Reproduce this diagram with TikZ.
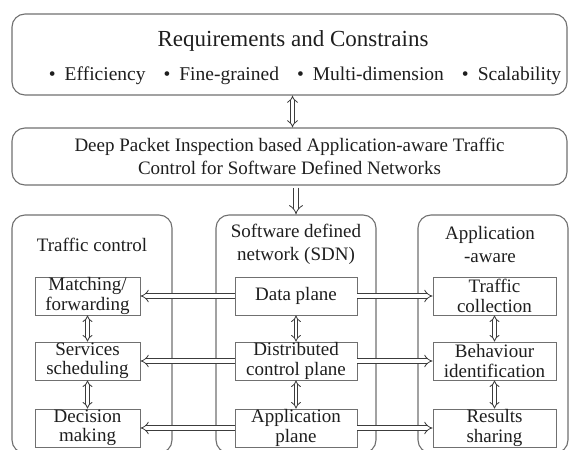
\documentclass[tikz,border=0pt]{standalone}
\usepackage{fontspec}
\setmainfont{Liberation Serif}
\usepackage{xcolor}
\definecolor{frameGray}{HTML}{707070}
\definecolor{arrowGray}{HTML}{3C3C3C}
\definecolor{inkText}{HTML}{1E1E1E}
\usepackage{tikz}
\usetikzlibrary{
    arrows.meta,
    positioning,
    calc
}
\tikzset{
    % Large rounded panels (top boxes and the three columns)
    panel/.style={
        draw=frameGray,
        line width=1.1pt,
        rounded corners=13pt,
        inner sep=0pt,
    },
    % Plain text inside the panels
    panel text/.style={
        text=inkText,
        align=center,
        inner sep=0pt,
        font=\fontsize{19}{23}\selectfont,
    },
    % Small square boxes inside the columns
    block/.style={
        rectangle,
        draw=frameGray,
        line width=0.9pt,
        minimum height=38pt,
        inner sep=0pt,
        align=center,
        text=inkText,
        font=\fontsize{19}{19.5}\selectfont,
    },
    % Hollow arrow
    hollow/.style={
        draw=arrowGray,
        line width=0.8pt,
        double=white,
        double distance=3.6pt,
        -{Implies[length=7pt, width=14pt]},
    },
    % Hollow arrow, both ends
    hollow both/.style={
        hollow,
        double distance=2.6pt,
        {Implies[length=5pt, width=10pt]}-{Implies[length=5pt, width=10pt]},
    },
}

\begin{document}
\begin{tikzpicture}[x=1pt, y=-1pt]
    \clip (0,0) rectangle (571,450);

    % top panels
    \node (req) [panel, minimum width=555pt, minimum height=81pt] at (289.5,54.5) {};
    \node (reqtitle) [panel text, font=\fontsize{23}{27}\selectfont] at (293,41) {Requirements and Constrains};
    \node (reqlist) [panel text, font=\fontsize{19.5}{23}\selectfont] at (305,76)
        {•\hspace{9pt}Efficiency\hspace{18pt}•\hspace{9pt}Fine-grained\hspace{18pt}•\hspace{9pt}Multi-dimension\hspace{18pt}•\hspace{9pt}Scalability};
    \node (dpi) [panel, minimum width=555pt, minimum height=57pt] at (289.5,156.5) {};
    \node (dpitext) [panel text] at (289.5,156.5)
        {Deep Packet Inspection based Application-aware Traffic\\Control for Software Defined Networks};

    % columns
    \node (tc) [panel, minimum width=160pt, minimum height=238pt] at (92,334) {};
    \node (sdn) [panel, minimum width=160pt, minimum height=238pt] at (296,334) {};
    \node (aa) [panel, minimum width=150pt, minimum height=238pt] at (493,334) {};
    \node (tctitle) [panel text] at (92,245) {Traffic control};
    \node (sdntitle) [panel text] at (296,244) {Software defined\\network (SDN)};
    \node (aatitle) [panel text] at (490,244) {Application\\-aware};

    % traffic control blocks
    \node (match) [block, minimum width=105pt] at (87.5,296) {Matching/\\forwarding};
    \node (sched) [block, minimum width=105pt] at (87.5,361) {Services\\scheduling};
    \node (decide) [block, minimum width=105pt] at (87.5,428) {Decision\\making};

    % sdn blocks
    \node (data) [block, minimum width=122pt] at (296,296) {Data plane};
    \node (ctrl) [block, minimum width=122pt] at (296,361) {Distributed\\control plane};
    \node (app) [block, minimum width=122pt] at (296,428) {Application\\plane};

    % application-aware blocks
    \node (collect) [block, minimum width=123pt] at (494.5,296) {Traffic\\collection};
    \node (ident) [block, minimum width=123pt] at (494.5,361) {Behaviour\\identification};
    \node (share) [block, minimum width=123pt] at (494.5,428) {Results\\sharing};

    \draw [hollow both, double distance=3pt] ([xshift=3pt]req.south) -- ([xshift=3pt]dpi.north);
    \draw [hollow, double distance=4.2pt] ([yshift=-2pt]dpi.south -| sdn.north) -- (sdn.north);

    \draw [hollow both] (match) -- (sched);
    \draw [hollow both] (sched) -- (decide);
    \draw [hollow both] (data) -- (ctrl);
    \draw [hollow both] (ctrl) -- (app);
    \draw [hollow both] (collect) -- (ident);
    \draw [hollow both] (ident) -- (share);

    \draw [hollow] (data) -- (match);
    \draw [hollow] (ctrl) -- (sched);
    \draw [hollow] (app) -- (decide);
    \draw [hollow] (data) -- (collect);
    \draw [hollow] (ctrl) -- (ident);
    \draw [hollow] (app) -- (share);
\end{tikzpicture}
\end{document}
